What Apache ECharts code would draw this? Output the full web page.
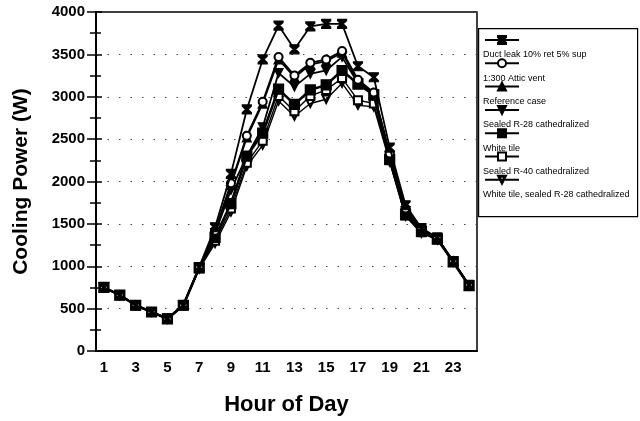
<!DOCTYPE html>
<html>
<head>
<meta charset="utf-8">
<script src="https://cdn.jsdelivr.net/npm/echarts@6/dist/echarts.min.js"></script>
<style>html,body{margin:0;padding:0;background:#fff}#c{width:640px;height:421px}</style>
</head>
<body>
<div id="c"></div>
<script>
const hours = ['1','2','3','4','5','6','7','8','9','10','11','12','13','14','15','16','17','18','19','20','21','22','23','24'];
const seriesNames = ['Duct leak 10% ret 5% sup','1:300 Attic vent','Reference case','Sealed R-28 cathedralized','White tile','Sealed R-40 cathedralized','White tile, sealed R-28 cathedralized'];
const ductLeak  = [750,660,540,460,380,540,990,1460,2090,2850,3440,3840,3560,3830,3860,3860,3360,3230,2400,1720,1450,1340,1060,780];
const atticVent = [750,660,540,460,380,540,985,1420,1980,2540,2940,3470,3250,3400,3440,3540,3200,3050,2330,1680,1430,1330,1060,770];
const refCase   = [750,660,540,460,380,540,985,1410,1960,2520,2920,3440,3230,3380,3420,3520,3180,3040,2320,1670,1430,1330,1060,770];
const sealedR28 = [750,660,540,460,380,540,980,1390,1900,2300,2640,3280,3120,3270,3310,3470,3160,3030,2300,1650,1420,1330,1060,770];
const whiteTile = [750,660,540,460,380,540,980,1340,1740,2300,2570,3090,2910,3080,3140,3310,3150,3020,2260,1610,1410,1320,1050,770];
const sealedR40 = [750,660,540,460,380,540,975,1300,1680,2220,2480,3010,2830,3010,3080,3220,2960,2920,2250,1600,1400,1320,1050,770];
const wtR28     = [750,660,540,460,380,540,970,1270,1640,2180,2430,2950,2770,2920,2970,3160,2900,2880,2230,1590,1390,1310,1050,770];
const yTicks = [0,500,1000,1500,2000,2500,3000,3500,4000];

const hourglass = 'path://M0,0 L10,0 L10,1.5 L6.2,5 L10,8.5 L10,10 L0,10 L0,8.5 L3.8,5 L0,1.5 Z';
const styles = [
  {data: ductLeak,  symbol: hourglass,        size: 9,  w: 1.8},
  {data: atticVent, symbol: 'emptyCircle',    size: 8,  w: 1.8},
  {data: refCase,   symbol: 'triangle',       size: 9,  w: 1.8},
  {data: sealedR28, symbol: 'path://M0,0 L10,0 L5,9 Z', size: 9, w: 1.8},
  {data: whiteTile, symbol: 'rect',           size: 10, w: 2.6},
  {data: sealedR40, symbol: 'emptyRect',      size: 8,  w: 1.4},
  {data: wtR28,     symbol: 'path://M0,0 L10,0 L5,9 Z M1.8,1.2 L5,7 L8.2,1.2 Z', size: 9, w: 1.4}
];

const chart = echarts.init(document.getElementById('c'), null, {renderer: 'canvas'});
const FONT = 'Liberation Sans';
const gridBox = {left: 96, right: 163, top: 12, bottom: 61};

const series = styles.map((s, i) => ({
  name: seriesNames[i],
  type: 'line',
  data: s.data,
  symbol: s.symbol,
  symbolSize: s.size,
  showAllSymbol: true,
  lineStyle: {color: '#000', width: s.w},
  itemStyle: {color: '#000', borderColor: '#000', borderWidth: 1.2},
  emphasis: {disabled: true},
  z: 10 - i
}));

chart.setOption({
  animation: false,
  backgroundColor: '#fff',
  textStyle: {fontFamily: FONT},
  grid: Object.assign({show: true, borderColor: '#000', borderWidth: 1.5, backgroundColor: 'transparent'}, gridBox),
  xAxis: [{
    type: 'category',
    data: hours,
    boundaryGap: true,
    name: 'Hour of Day',
    nameLocation: 'middle',
    nameGap: 43,
    nameTextStyle: {fontFamily: FONT, fontWeight: 'bold', fontSize: 22, color: '#000'},
    axisLine: {lineStyle: {color: '#000', width: 2}},
    axisTick: {alignWithLabel: true, interval: 0, length: 6, lineStyle: {color: '#000', width: 1.5}},
    axisLabel: {interval: 1, color: '#000', fontWeight: 'bold', fontSize: 15, fontFamily: FONT, margin: 9},
    splitLine: {show: false}
  }, {
    type: 'category',
    data: hours,
    position: 'bottom',
    boundaryGap: true,
    axisLine: {show: false},
    axisTick: {alignWithLabel: true, interval: 0, inside: true, length: 6, lineStyle: {color: '#000', width: 1.5}},
    axisLabel: {show: false},
    splitLine: {show: false}
  }],
  yAxis: [{
    type: 'value',
    min: yTicks[0],
    max: yTicks[yTicks.length - 1],
    interval: 500,
    name: 'Cooling Power (W)',
    nameLocation: 'middle',
    nameGap: 64,
    nameTextStyle: {fontFamily: FONT, fontWeight: 'bold', fontSize: 21, color: '#000'},
    axisLine: {show: true, lineStyle: {color: '#000', width: 2}},
    axisTick: {show: true, length: 9, lineStyle: {color: '#000', width: 1.5}},
    minorTick: {show: true, splitNumber: 2, length: 6, lineStyle: {color: '#000', width: 1.5}},
    axisLabel: {color: '#000', fontWeight: 'bold', fontSize: 15, fontFamily: FONT, margin: 11, formatter: v => String(v)},
    splitLine: {show: true, lineStyle: {color: '#444', type: [1.5, 10], width: 1.2}}
  }, {
    type: 'value',
    position: 'left',
    min: yTicks[0],
    max: yTicks[yTicks.length - 1],
    interval: 500,
    axisLine: {show: false},
    axisTick: {show: true, inside: true, length: 6, lineStyle: {color: '#000', width: 1.5}},
    minorTick: {show: true, splitNumber: 2, length: 5, lineStyle: {color: '#000', width: 1.5}},
    axisLabel: {show: false},
    splitLine: {show: false}
  }],
  legend: [{
    data: seriesNames,
    orient: 'vertical',
    left: 484,
    top: 35,
    padding: 0,
    itemWidth: 34,
    itemHeight: 10,
    itemGap: 13.3,
    selectedMode: false,
    formatter: () => '',
    textStyle: {fontSize: 8, lineHeight: 10}
  }, {
    data: seriesNames,
    orient: 'vertical',
    left: 478,
    top: 50,
    padding: 0,
    icon: 'rect',
    itemWidth: 0,
    itemHeight: 10,
    itemGap: 13.3,
    selectedMode: false,
    itemStyle: {color: 'transparent', borderColor: 'transparent', borderWidth: 0},
    textStyle: {fontSize: 9, lineHeight: 10, color: '#000', fontFamily: FONT}
  }],
  graphic: [{
    type: 'rect',
    left: 478, top: 28,
    shape: {width: 159, height: 188},
    style: {fill: 'transparent', stroke: '#000', lineWidth: 1.2},
    silent: true
  }],
  series: series
});
</script>
</body>
</html>
